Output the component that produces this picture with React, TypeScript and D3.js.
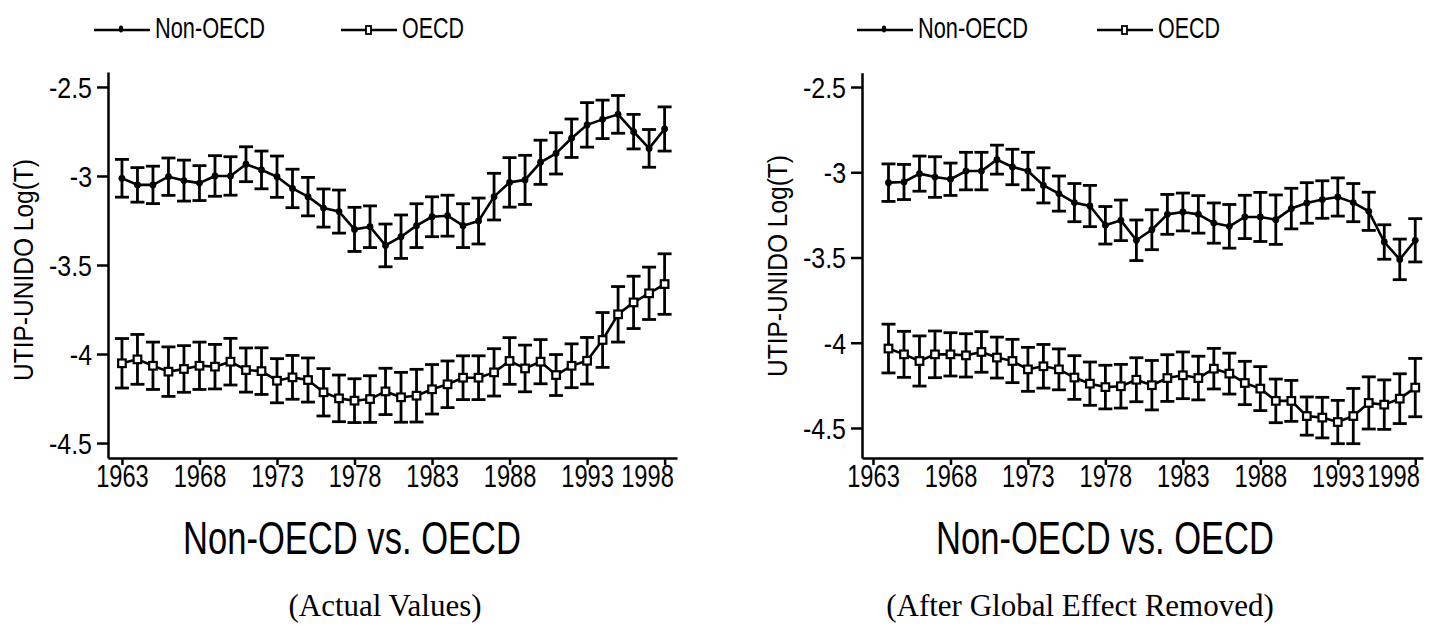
import { useRef, useEffect } from "react";
import * as d3 from "d3";

// years on the x axis
const yearsActual: number[] = [1963, 1964, 1965, 1966, 1967, 1968, 1969, 1970, 1971, 1972, 1973, 1974, 1975, 1976, 1977, 1978, 1979, 1980, 1981, 1982, 1983, 1984, 1985, 1986, 1987, 1988, 1989, 1990, 1991, 1992, 1993, 1994, 1995, 1996, 1997, 1998];
const yearsRemoved: number[] = [1964, 1965, 1966, 1967, 1968, 1969, 1970, 1971, 1972, 1973, 1974, 1975, 1976, 1977, 1978, 1979, 1980, 1981, 1982, 1983, 1984, 1985, 1986, 1987, 1988, 1989, 1990, 1991, 1992, 1993, 1994, 1995, 1996, 1997, 1998];

// (Actual Values)
const actualNonOecd: number[] = [-3.013, -3.05, -3.05, -3.004, -3.026, -3.04, -3.0, -3.0, -2.934, -2.966, -3.004, -3.07, -3.116, -3.18, -3.2, -3.3, -3.285, -3.39, -3.341, -3.279, -3.229, -3.223, -3.279, -3.253, -3.116, -3.036, -3.022, -2.923, -2.873, -2.788, -2.713, -2.682, -2.654, -2.751, -2.845, -2.736];
const actualNonOecdCi: number[] = [0.106, 0.097, 0.105, 0.105, 0.115, 0.098, 0.114, 0.108, 0.098, 0.106, 0.116, 0.108, 0.108, 0.107, 0.121, 0.124, 0.117, 0.12, 0.122, 0.123, 0.112, 0.115, 0.123, 0.129, 0.131, 0.139, 0.138, 0.124, 0.116, 0.108, 0.125, 0.108, 0.106, 0.097, 0.106, 0.124];
const actualOecd: number[] = [-4.052, -4.03, -4.066, -4.099, -4.084, -4.066, -4.071, -4.043, -4.09, -4.096, -4.15, -4.131, -4.146, -4.215, -4.249, -4.262, -4.253, -4.21, -4.243, -4.234, -4.198, -4.17, -4.133, -4.133, -4.103, -4.039, -4.081, -4.043, -4.118, -4.066, -4.038, -3.921, -3.777, -3.71, -3.659, -3.607];
const actualOecdCi: number[] = [0.139, 0.14, 0.133, 0.139, 0.131, 0.133, 0.125, 0.131, 0.124, 0.131, 0.124, 0.123, 0.124, 0.133, 0.131, 0.123, 0.131, 0.13, 0.14, 0.148, 0.139, 0.131, 0.123, 0.123, 0.133, 0.131, 0.131, 0.124, 0.115, 0.123, 0.131, 0.154, 0.156, 0.147, 0.147, 0.17];

// (After Global Effect Removed)
const removedNonOecd: number[] = [-3.061, -3.057, -3.008, -3.028, -3.041, -2.993, -2.993, -2.926, -2.969, -2.993, -3.077, -3.125, -3.178, -3.198, -3.311, -3.282, -3.399, -3.337, -3.247, -3.233, -3.247, -3.298, -3.317, -3.262, -3.262, -3.278, -3.213, -3.18, -3.16, -3.145, -3.178, -3.229, -3.409, -3.511, -3.399];
const removedNonOecdCi: number[] = [0.11, 0.103, 0.103, 0.119, 0.095, 0.11, 0.11, 0.085, 0.104, 0.11, 0.103, 0.103, 0.112, 0.121, 0.11, 0.119, 0.119, 0.117, 0.117, 0.111, 0.11, 0.118, 0.128, 0.127, 0.144, 0.145, 0.119, 0.119, 0.11, 0.112, 0.112, 0.112, 0.101, 0.119, 0.127];
const removedOecd: number[] = [-4.034, -4.068, -4.107, -4.068, -4.068, -4.074, -4.054, -4.087, -4.107, -4.156, -4.138, -4.156, -4.204, -4.24, -4.26, -4.255, -4.217, -4.249, -4.207, -4.191, -4.207, -4.152, -4.181, -4.236, -4.269, -4.341, -4.341, -4.43, -4.439, -4.465, -4.43, -4.353, -4.363, -4.328, -4.263];
const removedOecdCi: number[] = [0.143, 0.135, 0.147, 0.137, 0.127, 0.127, 0.119, 0.12, 0.127, 0.129, 0.128, 0.12, 0.128, 0.127, 0.128, 0.128, 0.129, 0.145, 0.137, 0.137, 0.128, 0.119, 0.12, 0.127, 0.129, 0.128, 0.12, 0.112, 0.119, 0.127, 0.162, 0.153, 0.145, 0.146, 0.171];

const xTickValues: number[] = [1963, 1968, 1973, 1978, 1983, 1988, 1993, 1998];
const yTickValues: number[] = [-2.5, -3, -3.5, -4, -4.5];
const seriesNames: string[] = ["Non-OECD", "OECD"];
const yTitle = "UTIP-UNIDO Log(T)";
const subTitle = "Non-OECD vs. OECD";
const captions: string[] = ["(Actual Values)", "(After Global Effect Removed)"];

const SANS = "'Liberation Sans', Arial, sans-serif";
const SERIF = "'Liberation Serif', 'Times New Roman', serif";

// squeeze a text horizontally (the original uses a narrow face)
function narrow(sel: any, k: number) {
    sel.each(function (this: any) {
        const len = this.getComputedTextLength();
        d3.select(this).attr("textLength", len * k).attr("lengthAdjust", "spacingAndGlyphs");
    });
}

function drawPanel(svg: any, cfg: any) {
    const g = svg.append("g");

    const x = d3.scaleLinear().domain(cfg.xDomain).range([cfg.left, cfg.right]);
    const y = d3.scaleLinear().domain(cfg.yDomain).range([cfg.bottom, cfg.top]);

    // left axis
    const yAxis = d3.axisLeft(y)
        .tickValues(yTickValues)
        .tickSize(11)
        .tickSizeOuter(0)
        .tickPadding(5)
        .tickFormat((d: any) => String(d));
    const ya = g.append("g")
        .attr("transform", `translate(${cfg.left},0)`)
        .call(yAxis);
    ya.select(".domain").attr("stroke-width", 2.5);
    ya.selectAll(".tick line").attr("stroke-width", 2.5);
    const yt = ya.selectAll(".tick text")
        .attr("font-family", SANS)
        .attr("font-size", 29)
        .attr("dy", "0.36em")
        .attr("fill", "#000");
    narrow(yt, 0.86);

    // bottom axis
    const xAxis = d3.axisBottom(x)
        .tickValues(xTickValues)
        .tickSize(7)
        .tickSizeOuter(0)
        .tickFormat((d: any) => String(d));
    const xa = g.append("g")
        .attr("transform", `translate(0,${cfg.bottom})`)
        .call(xAxis);
    xa.select(".domain").attr("stroke-width", 2.5);
    xa.selectAll(".tick line").attr("stroke-width", 2.5);
    const sx = 0.74;
    const labelW = 52;
    xa.selectAll(".tick text")
        .attr("font-family", SANS)
        .attr("font-size", 32)
        .attr("y", 6)
        .attr("dy", "0.72em")
        .attr("fill", "#000")
        .attr("x", 0)
        .attr("transform", (d: any) => {
            const px = x(d);
            const limit = cfg.right - 4 - labelW / 2;
            const dx = px > limit ? limit - px : 0;
            return `translate(${dx},0) scale(${sx},1)`;
        });

    // series: error bars, line, markers
    cfg.series.forEach((s: any) => {
        const pts = cfg.years.map((yr: number, i: number) => ({ yr, v: s.values[i], ci: s.ci[i] }));
        const capW = 14;
        const eb = g.append("g").attr("stroke", "#000").attr("stroke-width", 2.8);
        pts.forEach((p: any) => {
            const cx = x(p.yr);
            const y0 = y(p.v - p.ci);
            const y1 = y(p.v + p.ci);
            eb.append("line").attr("x1", cx).attr("x2", cx).attr("y1", y0).attr("y2", y1);
            eb.append("line").attr("x1", cx - capW / 2).attr("x2", cx + capW / 2).attr("y1", y0).attr("y2", y0);
            eb.append("line").attr("x1", cx - capW / 2).attr("x2", cx + capW / 2).attr("y1", y1).attr("y2", y1);
        });

        const line = d3.line<any>().x((p) => x(p.yr)).y((p) => y(p.v));
        g.append("path")
            .datum(pts)
            .attr("d", line)
            .attr("fill", "none")
            .attr("stroke", "#000")
            .attr("stroke-width", 2.6)
            .attr("stroke-linejoin", "round");

        if (s.marker === "circle") {
            g.append("g").selectAll("circle")
                .data(pts)
                .join("circle")
                .attr("cx", (p: any) => x(p.yr))
                .attr("cy", (p: any) => y(p.v))
                .attr("r", 3.4)
                .attr("fill", "#000");
        } else {
            g.append("g").selectAll("rect")
                .data(pts)
                .join("rect")
                .attr("x", (p: any) => x(p.yr) - 3.8)
                .attr("y", (p: any) => y(p.v) - 3.8)
                .attr("width", 7.6)
                .attr("height", 7.6)
                .attr("fill", "#fff")
                .attr("stroke", "#000")
                .attr("stroke-width", 2.2);
        }
    });

    // y title
    g.append("text")
        .attr("transform", `translate(${cfg.left - 75},${cfg.yTitleY}) rotate(-90)`)
        .attr("text-anchor", "middle")
        .attr("font-family", SANS)
        .attr("font-size", 27)
        .attr("textLength", 222)
        .attr("lengthAdjust", "spacingAndGlyphs")
        .text(yTitle);

    // sub title under axis
    g.append("text")
        .attr("x", cfg.subX)
        .attr("y", 554)
        .attr("text-anchor", "middle")
        .attr("font-family", SANS)
        .attr("font-size", 46)
        .attr("textLength", 338)
        .attr("lengthAdjust", "spacingAndGlyphs")
        .text(subTitle);

    // caption
    g.append("text")
        .attr("x", cfg.capX)
        .attr("y", 616)
        .attr("text-anchor", "middle")
        .attr("font-family", SERIF)
        .attr("font-size", 31)
        .text(cfg.caption);

    // legend
    const leg = g.append("g");
    cfg.legend.forEach((l: any, i: number) => {
        const ly = 30;
        leg.append("line")
            .attr("x1", l.x0).attr("x2", l.x0 + 56)
            .attr("y1", ly).attr("y2", ly)
            .attr("stroke", "#000").attr("stroke-width", 2.6);
        if (i === 0) {
            leg.append("ellipse")
                .attr("cx", l.x0 + 27).attr("cy", ly - 1)
                .attr("rx", 2.2).attr("ry", 3.4)
                .attr("fill", "#000");
        } else {
            leg.append("rect")
                .attr("x", l.x0 + 25).attr("y", ly - 4)
                .attr("width", 5).attr("height", 8)
                .attr("fill", "#fff").attr("stroke", "#000").attr("stroke-width", 1.8);
        }
        leg.append("text")
            .attr("x", l.x0 + 61)
            .attr("y", 38)
            .attr("font-family", SANS)
            .attr("font-size", 30)
            .attr("textLength", l.w)
            .attr("lengthAdjust", "spacingAndGlyphs")
            .text(seriesNames[i]);
    });
}

export default function App() {
    const svgRef = useRef<SVGSVGElement | null>(null);

    useEffect(() => {
        if (!svgRef.current) return;
        const svg = d3.select(svgRef.current);
        svg.selectAll("*").remove();

        svg.append("rect").attr("width", 1433).attr("height", 626).attr("fill", "#fff");

        drawPanel(svg, {
            left: 108, right: 677, top: 72, bottom: 458,
            xDomain: [1962.1, 1998.8],
            yDomain: [-4.584, -2.416],
            years: yearsActual,
            series: [
                { values: actualNonOecd, ci: actualNonOecdCi, marker: "circle" },
                { values: actualOecd, ci: actualOecdCi, marker: "square" },
            ],
            yTitleY: 270,
            subX: 352,
            capX: 385,
            caption: captions[0],
            legend: [{ x0: 94, w: 110 }, { x0: 341, w: 62 }],
        });

        drawPanel(svg, {
            left: 862, right: 1423, top: 72.7, bottom: 458,
            xDomain: [1962.29, 1998.5],
            yDomain: [-4.676, -2.416],
            years: yearsRemoved,
            series: [
                { values: removedNonOecd, ci: removedNonOecdCi, marker: "circle" },
                { values: removedOecd, ci: removedOecdCi, marker: "square" },
            ],
            yTitleY: 266,
            subX: 1105,
            capX: 1080,
            caption: captions[1],
            legend: [{ x0: 857, w: 110 }, { x0: 1097, w: 62 }],
        });
    }, []);

    return (
        <svg
            ref={svgRef}
            width={1433}
            height={626}
            style={{ position: "absolute", left: 0, top: 0, display: "block" }}
        />
    );
}
